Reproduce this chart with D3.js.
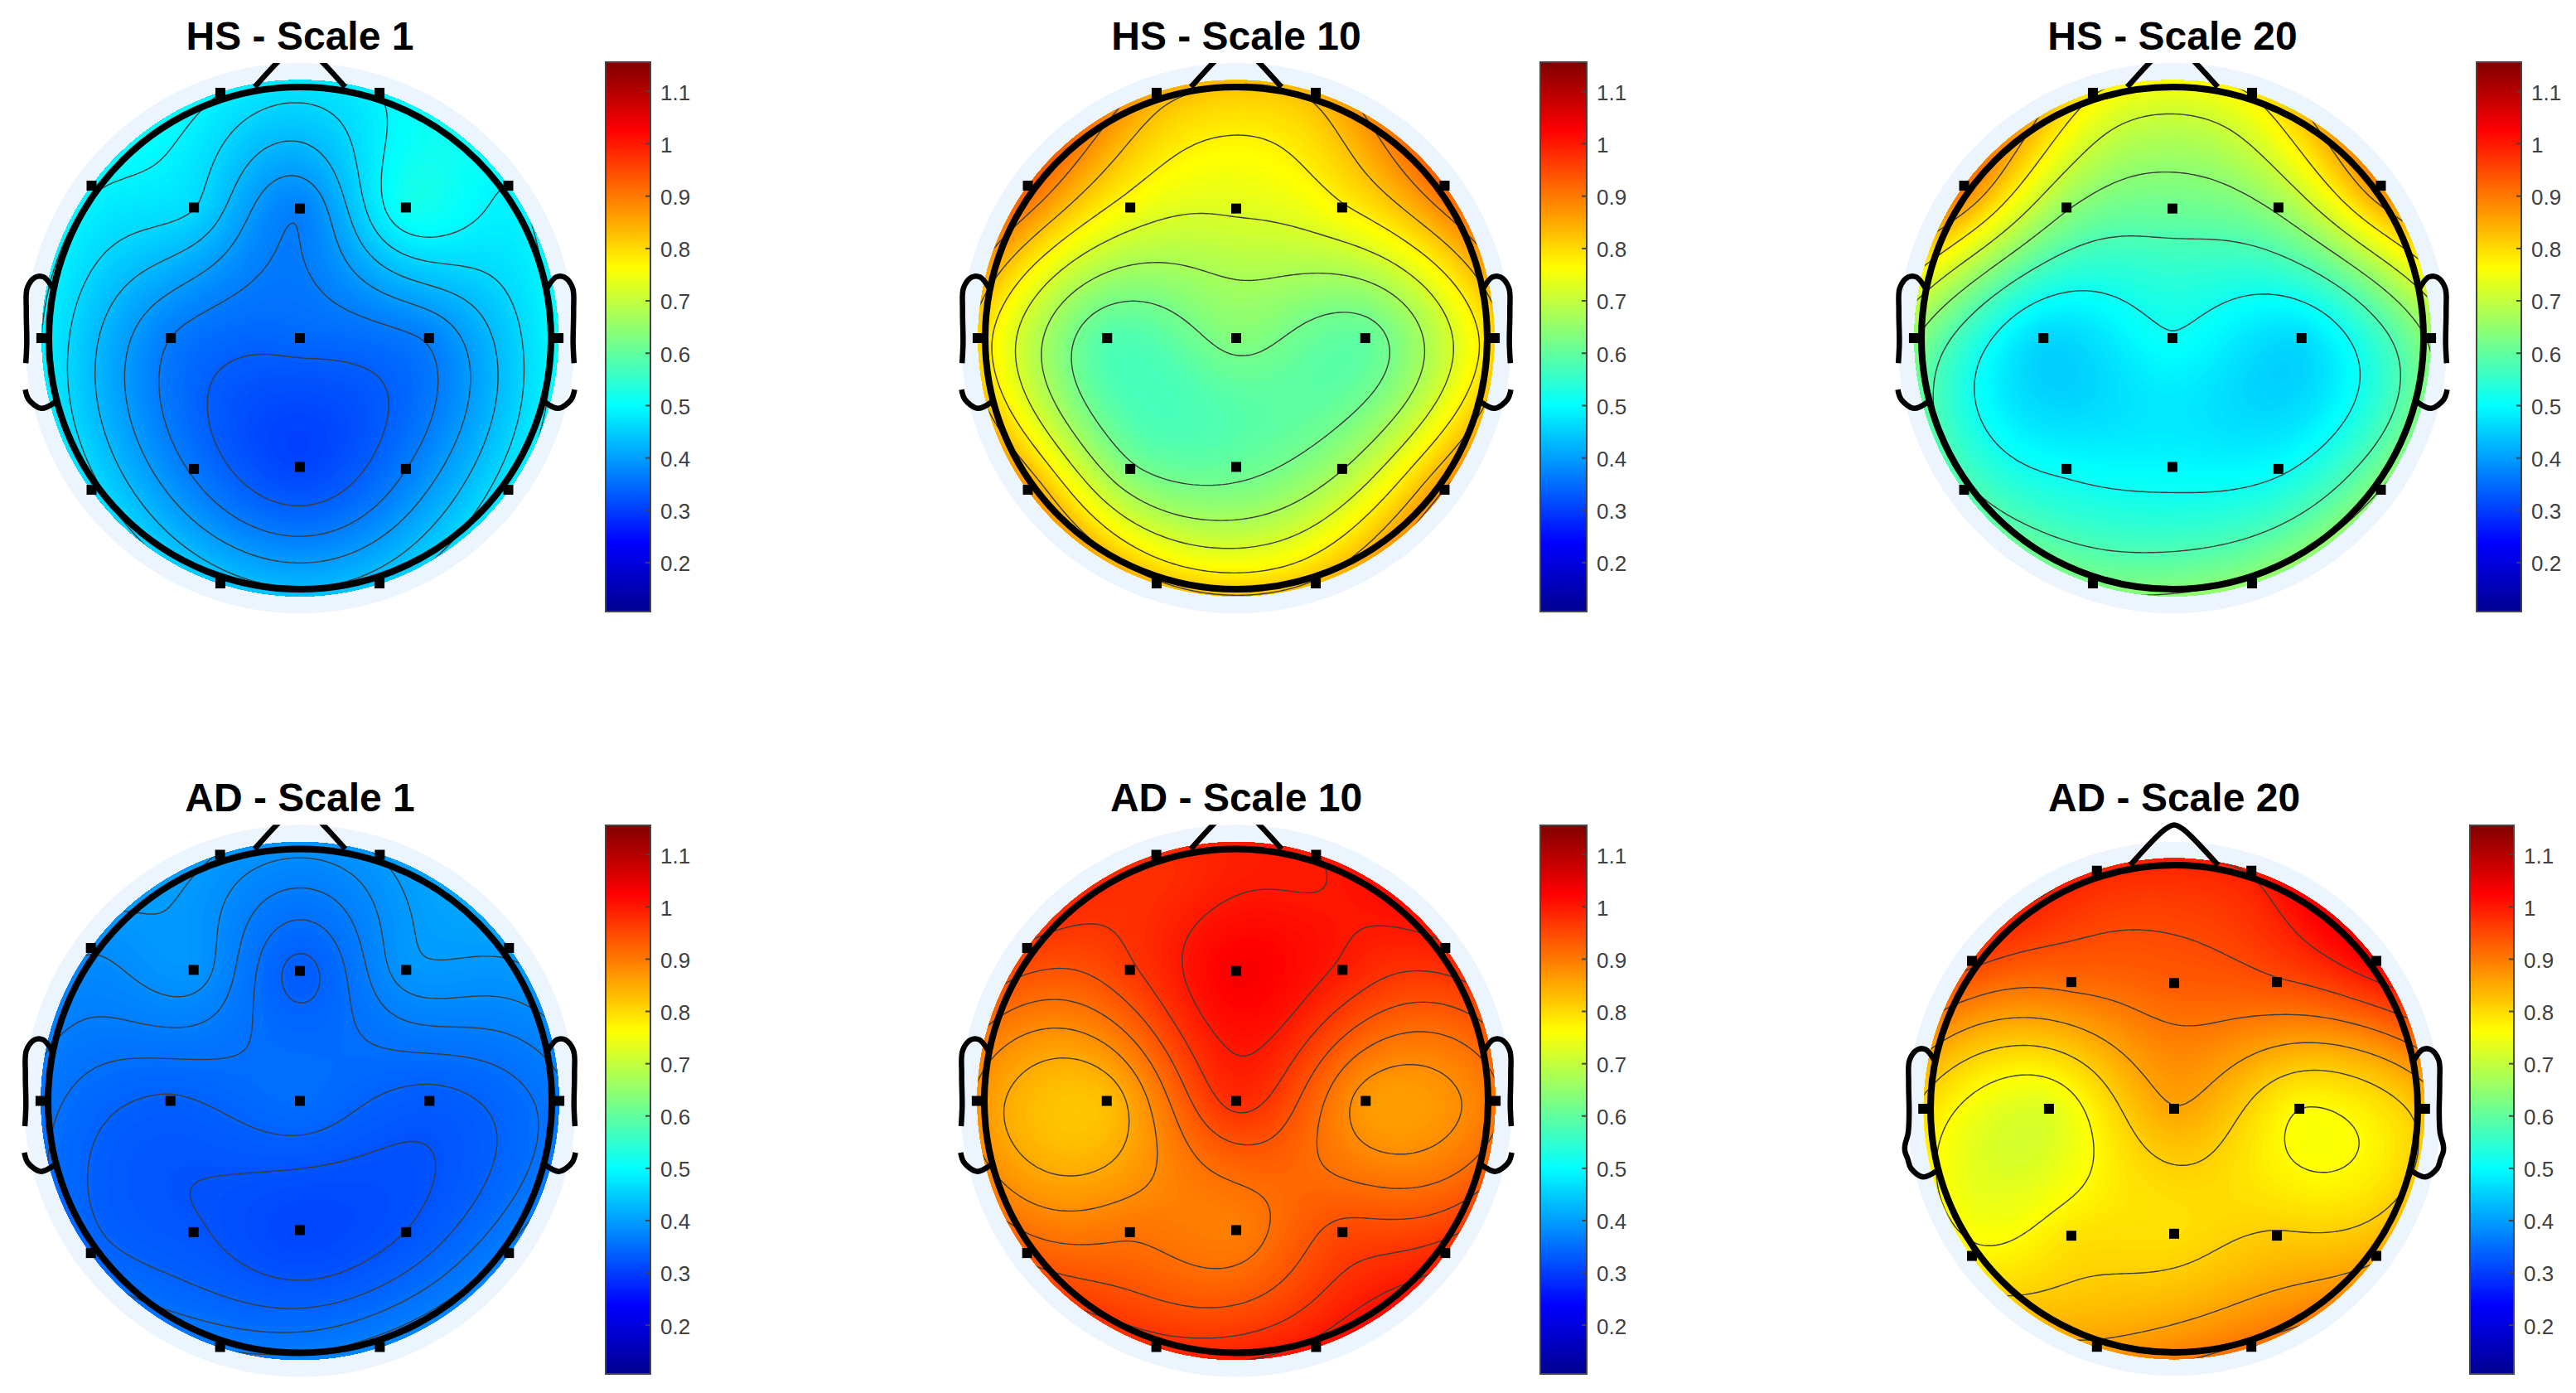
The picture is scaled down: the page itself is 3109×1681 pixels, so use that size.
<!DOCTYPE html>
<html>
<head>
<meta charset="utf-8">
<title>Topographic maps</title>
<script src="https://cdn.jsdelivr.net/npm/d3@7"></script>
<style>
  body { margin: 0; background: #fff; }
  text { font-family: "Liberation Sans", Arial, sans-serif; }
</style>
</head>
<body>
<script>
'use strict';

// channel order shared by all value arrays
let channels = ["Fp1", "Fp2", "F7", "F3", "Fz", "F4", "F8", "T3", "C3", "Cz", "C4", "T4", "T5", "P3", "Pz", "P4", "T6", "O1", "O2"];
let chanX = [-0.317, 0.317, -0.83, -0.422, 0, 0.422, 0.83, -1.03, -0.514, 0, 0.514, 1.03, -0.83, -0.422, 0, 0.422, 0.83, -0.317, 0.317];
let chanY = [0.977, 0.977, 0.607, 0.52, 0.516, 0.52, 0.607, 0, 0, 0, 0, 0, -0.604, -0.521, -0.513, -0.521, -0.604, -0.977, -0.977];

// values per channel
let hsScale1 = [0.49, 0.49, 0.495, 0.46, 0.37, 0.515, 0.49, 0.49, 0.365, 0.345, 0.37, 0.5, 0.47, 0.36, 0.307, 0.365, 0.48, 0.445, 0.445];
let hsScale10 = [0.85, 0.84, 0.93, 0.755, 0.73, 0.77, 0.925, 0.81, 0.585, 0.635, 0.6, 0.81, 0.87, 0.63, 0.605, 0.67, 0.88, 0.835, 0.835];
let hsScale20 = [0.78, 0.78, 0.905, 0.65, 0.61, 0.655, 0.885, 0.65, 0.46, 0.51, 0.465, 0.655, 0.59, 0.505, 0.495, 0.505, 0.645, 0.63, 0.655];
let adScale1 = [0.395, 0.397, 0.383, 0.39, 0.3325, 0.39, 0.4, 0.36, 0.335, 0.35, 0.331, 0.362, 0.345, 0.325, 0.308, 0.323, 0.37, 0.365, 0.375];
let adScale10 = [0.98, 1, 0.965, 0.965, 1.03, 0.995, 0.995, 0.875, 0.83, 0.98, 0.868, 0.905, 0.93, 0.905, 0.895, 0.95, 0.985, 0.985, 1.01];
let adScale20 = [0.99, 1, 0.96, 0.915, 0.93, 0.945, 1.03, 0.8, 0.73, 0.855, 0.765, 0.83, 0.775, 0.79, 0.795, 0.815, 0.85, 0.865, 0.91];

let titles = ["HS - Scale 1", "HS - Scale 10", "HS - Scale 20", "AD - Scale 1", "AD - Scale 10", "AD - Scale 20"];
let panelValues = [hsScale1, hsScale10, hsScale20, adScale1, adScale10, adScale20];

let colorTicks = [0.2, 0.3, 0.4, 0.5, 0.6, 0.7, 0.8, 0.9, 1, 1.1];
let colorLimits = [0.106, 1.155];
let contourCount = 6;

// head drawing, in head radius units
let earPoints = [[-0.985, 0.2], [-1.02, 0.243], [-1.053, 0.243], [-1.086, 0.2], [-1.09, 0.11], [-1.088, -0.02], [-1.092, -0.1], [-1.105, -0.15], [-1.105, -0.175], [-1.094, -0.205], [-1.08, -0.245], [-1.03, -0.28], [-0.975, -0.255]];
let nosePoints = [[-0.18, 1], [-0.04, 1.145], [0, 1.165], [0.04, 1.145], [0.18, 1]];

let layout = [
  { cx: 362, cy: 408, r: 303, barX: 731, barW: 54, barY: 75, barH: 663, titleY: 60, clip: true },
  { cx: 1492, cy: 408, r: 303, barX: 1859, barW: 56, barY: 75, barH: 663, titleY: 60, clip: true },
  { cx: 2622, cy: 408, r: 303, barX: 2989, barW: 54, barY: 75, barH: 663, titleY: 60, clip: true },
  { cx: 362, cy: 1328.5, r: 304, barX: 731, barW: 54, barY: 996, barH: 662, titleY: 979, clip: true },
  { cx: 1492, cy: 1328.5, r: 304, barX: 1859, barW: 56, barY: 996, barH: 662, titleY: 979, clip: true },
  { cx: 2624, cy: 1338, r: 294, barX: 2981, barW: 53, barY: 996, barH: 662, titleY: 979, clip: false }
];

let width = 3109;
let height = 1681;
let gridSize = 161;
let gridExtent = 1.06;
let colorRadius = 1.028;
let blankRadius = 1.096;

let svg = d3.select("body").append("svg")
  .attr("width", width)
  .attr("height", height)
  .style("display", "block");
let defs = svg.append("defs");

// MATLAB jet
let jetStops = [0, 0.125, 0.375, 0.625, 0.875, 1];
let jetColors = ["#00008f", "#0000ff", "#00ffff", "#ffff00", "#ff0000", "#800000"];
let jet = d3.scaleLinear()
  .domain(jetStops.map(t => colorLimits[0] + t * (colorLimits[1] - colorLimits[0])))
  .range(jetColors)
  .clamp(true);

// biharmonic spline like griddata v4, distances in topoplot units (head = 0.5)
function green(d) {
  return d > 0 ? d * d * (Math.log(d) - 1) : 0;
}

function solve(matrix, rhs) {
  let n = rhs.length;
  let a = matrix.map((row, i) => row.concat(rhs[i]));
  for (let c = 0; c < n; c++) {
    let p = c;
    for (let i = c + 1; i < n; i++) {
      if (Math.abs(a[i][c]) > Math.abs(a[p][c])) p = i;
    }
    [a[c], a[p]] = [a[p], a[c]];
    for (let i = c + 1; i < n; i++) {
      let f = a[i][c] / a[c][c];
      for (let j = c; j <= n; j++) a[i][j] -= f * a[c][j];
    }
  }
  let w = new Array(n).fill(0);
  for (let i = n - 1; i >= 0; i--) {
    let s = a[i][n];
    for (let j = i + 1; j < n; j++) s -= a[i][j] * w[j];
    w[i] = s / a[i][i];
  }
  return w;
}

function buildField(values) {
  let matrix = chanX.map((xi, i) => chanX.map((xj, j) =>
    green(0.5 * Math.hypot(xi - xj, chanY[i] - chanY[j]))));
  let weights = solve(matrix, values);
  let cell = d3.scaleLinear().domain([0, gridSize - 1]).range([-gridExtent, gridExtent]);
  let field = new Float64Array(gridSize * gridSize);
  let lo = Infinity;
  let hi = -Infinity;
  for (let row = 0; row < gridSize; row++) {
    let y = cell(row);
    for (let col = 0; col < gridSize; col++) {
      let x = cell(col);
      let z = 0;
      for (let k = 0; k < weights.length; k++) {
        z += weights[k] * green(0.5 * Math.hypot(x - chanX[k], y - chanY[k]));
      }
      field[row * gridSize + col] = z;
      if (Math.hypot(x, y) <= colorRadius) {
        lo = Math.min(lo, z);
        hi = Math.max(hi, z);
      }
    }
  }
  return { field: field, lo: lo, hi: hi };
}

titles.forEach((title, idx) => {
  let box = layout[idx];
  let x = d3.scaleLinear().domain([-1, 1]).range([box.cx - box.r, box.cx + box.r]);
  let y = d3.scaleLinear().domain([-1, 1]).range([box.cy + box.r, box.cy - box.r]);
  let g = svg.append("g").attr("class", "panel");

  g.append("text")
    .attr("x", box.cx)
    .attr("y", box.titleY)
    .attr("text-anchor", "middle")
    .attr("font-size", 48)
    .attr("font-weight", "bold")
    .attr("fill", "#000")
    .text(title);

  g.append("circle")
    .attr("cx", x(0)).attr("cy", y(0))
    .attr("r", box.r * blankRadius)
    .attr("fill", "#ecf4fe");

  let { field, lo, hi } = buildField(panelValues[idx]);

  defs.append("clipPath").attr("id", "disc" + idx)
    .append("circle")
    .attr("cx", x(0)).attr("cy", y(0))
    .attr("r", box.r * colorRadius);

  // contour grid units -> head units -> pixels
  let gridX = d3.scaleLinear().domain([0.5, gridSize - 0.5]).range([x(-gridExtent), x(gridExtent)]);
  let gridY = d3.scaleLinear().domain([0.5, gridSize - 0.5]).range([y(-gridExtent), y(gridExtent)]);
  let geo = d3.geoPath(d3.geoTransform({
    point: function(px, py) { this.stream.point(gridX(px), gridY(py)); }
  }));
  let contours = d3.contours().size([gridSize, gridSize]).smooth(true);

  let disc = g.append("g").attr("clip-path", "url(#disc" + idx + ")");
  let step = 0.004;
  let floor = d3.min(field);
  let top = d3.max(field);
  let fillLevels = d3.range(Math.floor(floor / step) * step, top, step);
  disc.selectAll("path.fill")
    .data(contours.thresholds(fillLevels)(field))
    .enter()
    .append("path")
    .attr("class", "fill")
    .attr("d", geo)
    .attr("fill", d => jet(d.value + step / 2));

  // same automatic levels as contour(Z, n)
  let lineLevels = d3.range(1, contourCount + 1)
    .map(i => lo + i * (hi - lo) / (contourCount + 1));
  disc.selectAll("path.line")
    .data(contours.thresholds(lineLevels)(field))
    .enter()
    .append("path")
    .attr("class", "line")
    .attr("d", geo)
    .attr("fill", "none")
    .attr("stroke", "#3c3c3c")
    .attr("stroke-width", 1.4);

  // ears and nose are cut by the axes box except in the last panel
  let outline = g.append("g");
  if (box.clip) {
    defs.append("clipPath").attr("id", "box" + idx)
      .append("rect")
      .attr("x", x(-1.11)).attr("y", y(1.096))
      .attr("width", x(1.11) - x(-1.11))
      .attr("height", y(-1.2) - y(1.096));
    outline.attr("clip-path", "url(#box" + idx + ")");
  }
  let line = d3.line()
    .defined(d => !box.clip || Math.abs(d[0]) <= 1.1)
    .x(d => x(d[0]))
    .y(d => y(d[1]))
    .curve(d3.curveCatmullRom);
  outline.append("path").attr("d", line(earPoints))
    .attr("fill", "none").attr("stroke", "#000").attr("stroke-width", 6.5);
  outline.append("path").attr("d", line(earPoints.map(d => [-d[0], d[1]])))
    .attr("fill", "none").attr("stroke", "#000").attr("stroke-width", 6.5);
  outline.append("path").attr("d", line(nosePoints))
    .attr("fill", "none").attr("stroke", "#000").attr("stroke-width", 6.5);

  g.append("circle")
    .attr("cx", x(0)).attr("cy", y(0))
    .attr("r", box.r)
    .attr("fill", "none")
    .attr("stroke", "#000")
    .attr("stroke-width", 8);

  g.selectAll("rect.chan")
    .data(channels)
    .enter()
    .append("rect")
    .attr("class", "chan")
    .attr("x", (d, i) => x(chanX[i]) - 6)
    .attr("y", (d, i) => y(chanY[i]) - 6)
    .attr("width", 12)
    .attr("height", 12)
    .attr("fill", "#000");

  // colorbar
  let gradient = defs.append("linearGradient")
    .attr("id", "bar" + idx)
    .attr("x1", 0).attr("x2", 0).attr("y1", 1).attr("y2", 0);
  jetStops.forEach((t, i) => {
    gradient.append("stop")
      .attr("offset", t)
      .attr("stop-color", jetColors[i]);
  });
  g.append("rect")
    .attr("x", box.barX).attr("y", box.barY)
    .attr("width", box.barW).attr("height", box.barH)
    .attr("fill", "url(#bar" + idx + ")")
    .attr("stroke", "#444")
    .attr("stroke-width", 2);

  let barScale = d3.scaleLinear().domain(colorLimits).range([box.barY + box.barH, box.barY]);
  let axis = d3.axisRight(barScale)
    .tickValues(colorTicks)
    .tickFormat(d => String(d))
    .tickSizeInner(-6)
    .tickSizeOuter(0)
    .tickPadding(12);
  let axisG = g.append("g")
    .attr("transform", "translate(" + (box.barX + box.barW) + ",0)")
    .call(axis);
  axisG.select(".domain").remove();
  axisG.selectAll("line").attr("stroke", "#444").attr("stroke-width", 2);
  axisG.selectAll("text")
    .attr("font-size", 26)
    .attr("dy", "0.4em")
    .attr("fill", "#404040")
    .style("font-family", "'Liberation Sans', Arial, sans-serif");
});
</script>
</body>
</html>
